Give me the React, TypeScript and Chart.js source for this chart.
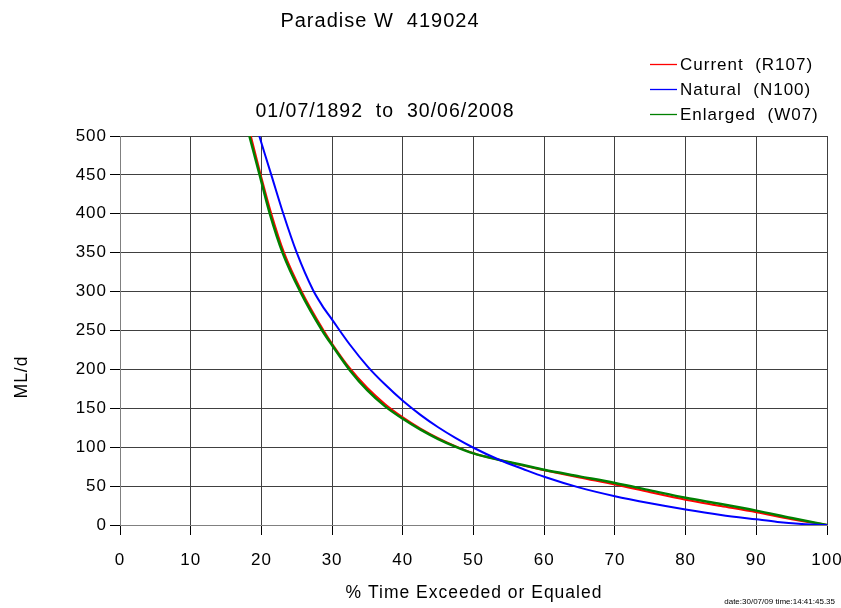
import React, { useEffect, useRef } from "react";
import { Chart, registerables } from "chart.js";

Chart.register(...registerables);

const TITLE = "Paradise W  419024";
const SUBTITLE = "01/07/1892  to  30/06/2008";
const X_TITLE = "% Time Exceeded or Equaled";
const Y_TITLE = "ML/d";
const STAMP = "date:30/07/09 time:14:41:45.35";

const X_TICKS = [0, 10, 20, 30, 40, 50, 60, 70, 80, 90, 100];
const Y_TICKS = [0, 50, 100, 150, 200, 250, 300, 350, 400, 450, 500];

const CURRENT_LABEL = "Current  (R107)";
const CURRENT_X = [18.5, 19.9, 21.4, 23.2, 25.7, 28.8, 30, 32.5, 35, 37.5, 40, 42.5, 45, 47.5, 50, 53.7, 57, 60, 65, 70, 75, 80, 85, 90, 95, 100];
const CURRENT_Y = [500, 450, 400, 350, 300, 250, 233, 201.5, 176, 155.3, 138.4, 124, 111.6, 101, 92.3, 83.5, 76.5, 70.5, 61, 52, 42, 32.5, 24.5, 16.5, 7.5, 0];

const NATURAL_LABEL = "Natural  (N100)";
const NATURAL_X = [19.7, 21.4, 23.1, 25.0, 27.3, 28.6, 30, 32.5, 35, 37.5, 40, 42.5, 45, 47.5, 50, 53.7, 57, 60, 65, 70, 75, 80, 85, 90, 93, 96, 98, 100];
const NATURAL_Y = [500, 450, 400, 350, 302, 282, 264, 232, 204, 180.5, 159.7, 141.6, 125.6, 111.7, 99.3, 83.5, 72, 62, 48, 37, 28, 20, 13, 7.3, 4, 1.5, 0.5, 0];

const ENLARGED_LABEL = "Enlarged  (W07)";
const ENLARGED_X = [18.3, 19.75, 21.2, 23.0, 25.5, 28.6, 30, 32.5, 35, 37.5, 40, 42.5, 45, 47.5, 50, 53.7, 57, 60, 65, 70, 75, 80, 85, 90, 95, 100];
const ENLARGED_Y = [500, 450, 400, 350, 300, 250, 231, 199, 173, 152.5, 136.5, 122.5, 110.5, 100.5, 92, 83.5, 77, 71, 62.5, 54, 44.5, 35, 27, 18.5, 9, 0];

const FONT = "'Liberation Sans', Arial, sans-serif";
const SPACING = "1px";

const toPoints = (xs: number[], ys: number[]) => xs.map((x, i) => ({ x, y: ys[i] }));

const decor = {
  id: "decor",
  beforeDraw(chart: any) {
    (chart.ctx as any).letterSpacing = SPACING;
  },
  afterDraw(chart: any) {
    const ctx = chart.ctx as CanvasRenderingContext2D;
    ctx.save();
    (ctx as any).letterSpacing = SPACING;
    ctx.fillStyle = "#000";
    ctx.textAlign = "center";
    ctx.textBaseline = "alphabetic";
    ctx.font = `20px ${FONT}`;
    ctx.fillText(TITLE, 380, 27);
    ctx.font = `19.5px ${FONT}`;
    ctx.fillText(SUBTITLE, 385, 117);

    ctx.font = `17.5px ${FONT}`;
    ctx.fillText(X_TITLE, 474, 598);

    ctx.save();
    ctx.translate(27, 377);
    ctx.rotate(-Math.PI / 2);
    ctx.fillText(Y_TITLE, 0, 0);
    ctx.restore();

    // legend
    ctx.font = `17px ${FONT}`;
    ctx.textAlign = "left";
    ctx.textBaseline = "middle";
    const rows = [64, 89, 114];
    chart.data.datasets.forEach((ds: any, i: number) => {
      const y = rows[i];
      ctx.strokeStyle = ds.borderColor;
      ctx.lineWidth = 1.3;
      ctx.beginPath();
      ctx.moveTo(650, y + 0.5);
      ctx.lineTo(677, y + 0.5);
      ctx.stroke();
      ctx.fillText(ds.label, 680, y + 1);
    });

    (ctx as any).letterSpacing = "0px";
    ctx.font = `8px ${FONT}`;
    ctx.textAlign = "right";
    ctx.fillText(STAMP, 835, 602);
    ctx.restore();
  },
};

export default function App() {
  const ref = useRef<HTMLCanvasElement | null>(null);
  useEffect(() => {
    if (!ref.current) return;
    const chart = new Chart(ref.current, {
      type: "line",
      data: {
        datasets: [
          {
            label: CURRENT_LABEL,
            data: toPoints(CURRENT_X, CURRENT_Y),
            borderColor: "#ff0000",
            backgroundColor: "#ff0000",
            borderWidth: 2,
            pointRadius: 0,
            cubicInterpolationMode: "monotone",
            order: 3,
          },
          {
            label: NATURAL_LABEL,
            data: toPoints(NATURAL_X, NATURAL_Y),
            borderColor: "#0000ff",
            backgroundColor: "#0000ff",
            borderWidth: 2,
            pointRadius: 0,
            cubicInterpolationMode: "monotone",
            order: 1,
          },
          {
            label: ENLARGED_LABEL,
            data: toPoints(ENLARGED_X, ENLARGED_Y),
            borderColor: "#008000",
            backgroundColor: "#008000",
            borderWidth: 2.5,
            pointRadius: 0,
            cubicInterpolationMode: "monotone",
            order: 2,
          },
        ],
      },
      options: {
        responsive: false,
        animation: false,
        events: [],
        layout: { padding: { left: 0, top: 136, right: 14, bottom: 0 } },
        plugins: {
          legend: { display: false },
          title: { display: false },
          tooltip: { enabled: false },
        },
        scales: {
          x: {
            type: "linear",
            min: 0,
            max: 100,
            afterFit: (s: any) => {
              s.height = 83;
              s.paddingLeft = 0;
              s.paddingRight = 0;
            },
            afterBuildTicks: (s: any) => {
              s.ticks = X_TICKS.map((v) => ({ value: v }));
            },
            ticks: {
              color: "#000",
              font: { family: FONT, size: 17 },
              padding: 15,
              maxRotation: 0,
              autoSkip: false,
            },
            grid: { color: "#404040", lineWidth: 1, tickLength: 10, tickColor: "#000" },
            border: { color: "#808080", width: 1 },
          },
          y: {
            type: "linear",
            min: 0,
            max: 500,
            afterFit: (s: any) => {
              s.width = 120;
              s.paddingTop = 0;
              s.paddingBottom = 0;
            },
            afterBuildTicks: (s: any) => {
              s.ticks = Y_TICKS.map((v) => ({ value: v }));
            },
            ticks: {
              color: "#000",
              font: { family: FONT, size: 17 },
              padding: 3,
              autoSkip: false,
            },
            grid: { color: "#404040", lineWidth: 1, tickLength: 10, tickColor: "#000" },
            border: { color: "#808080", width: 1 },
          },
        },
      },
      plugins: [decor],
    });
    return () => chart.destroy();
  }, []);
  return (
    <div style={{ position: "absolute", left: 0, top: 0, width: 841, height: 608, background: "#fff" }}>
      <canvas ref={ref} width={841} height={608} style={{ display: "block" }} />
    </div>
  );
}
